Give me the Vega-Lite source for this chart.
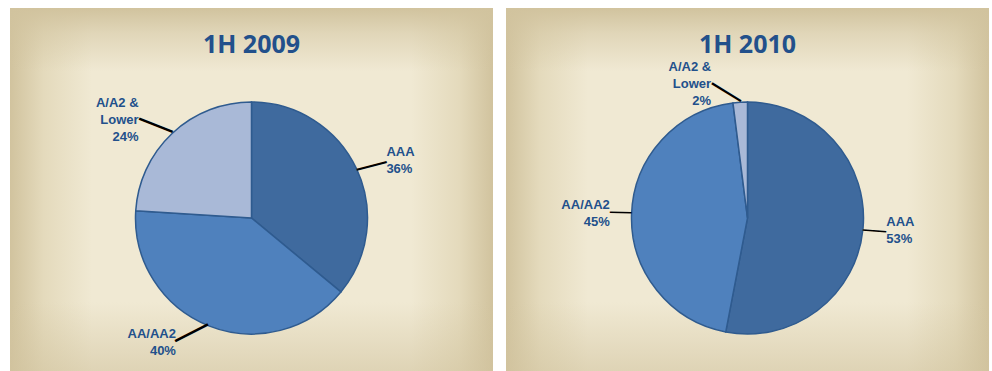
{
  "$schema": "https://vega.github.io/schema/vega-lite/v6.json",
  "padding": {"left": 10, "top": 8, "right": 3, "bottom": 0},
  "spacing": 13,
  "background": "white",
  "config": {"view": {"stroke": null}},
  "datasets": {
    "pie": [
      {"period": "1H 2009", "rating": "AAA", "share": 36, "label": "AAA\n36%"},
      {"period": "1H 2009", "rating": "AA/AA2", "share": 40, "label": "AA/AA2\n40%"},
      {"period": "1H 2009", "rating": "A/A2 & Lower", "share": 24, "label": "A/A2 &\nLower\n24%"},
      {"period": "1H 2010", "rating": "AAA", "share": 53, "label": "AAA\n53%"},
      {"period": "1H 2010", "rating": "AA/AA2", "share": 45, "label": "AA/AA2\n45%"},
      {"period": "1H 2010", "rating": "A/A2 & Lower", "share": 2, "label": "A/A2 &\nLower\n2%"}
    ],
    "bg": [{"panel": "background"}]
  },
  "hconcat": [
    {
      "width": 483,
      "height": 420,
      "title": {"text": "1H 2009", "offset": -50, "fontSize": 25, "font": "Open Sans", "fontWeight": "bold", "color": "#22508B", "anchor": "middle"},
      "layer": [
        {
          "data": {"name": "bg"},
          "mark": {"type": "rect", "color": {"gradient": "linear", "x1": 0, "y1": 0, "x2": 1, "y2": 0, "stops": [
            {"offset": 0, "color": "#D1C39E"}, {"offset": 0.07, "color": "#E4DABC"}, {"offset": 0.17, "color": "#F0E9D3"},
            {"offset": 0.83, "color": "#F0E9D3"}, {"offset": 0.93, "color": "#E4DABC"}, {"offset": 1, "color": "#D1C39E"}]}},
          "encoding": {}
        },
        {
          "data": {"name": "bg"},
          "mark": {"type": "rect", "color": {"gradient": "linear", "x1": 0, "y1": 0, "x2": 0, "y2": 1, "stops": [
            {"offset": 0, "color": "rgba(209,195,158,1)"}, {"offset": 0.06, "color": "rgba(209,195,158,0.5)"}, {"offset": 0.15, "color": "rgba(209,195,158,0)"},
            {"offset": 0.7, "color": "rgba(209,195,158,0)"}, {"offset": 0.86, "color": "rgba(209,195,158,0.55)"}, {"offset": 1, "color": "rgba(209,195,158,1)"}]}},
          "encoding": {}
        },
        {
          "data": {"name": "pie"},
          "transform": [{"filter": "datum.period == '1H 2009'"}],
          "layer": [
            {
              "mark": {"type": "arc", "outerRadius": 116, "stroke": "#2F5B8F", "strokeWidth": 1.5},
              "encoding": {
                "theta": {"field": "share", "type": "quantitative", "stack": true},
                "order": {"field": "rating", "sort": "descending"},
                "color": {"field": "rating", "type": "nominal", "legend": null,
                  "scale": {"domain": ["AAA", "AA/AA2", "A/A2 & Lower"], "range": ["#3F6A9E", "#4F81BD", "#A9B9D7"]}}
              }
            },
            {
              "mark": {"type": "text", "radius": 125, "font": "Liberation Sans", "color": "black", "align": "center", "baseline": "middle",
                "angle": {"expr": "atan2((-18*cos((datum.share_start+datum.share_end)*PI/100)), (18*sin((datum.share_start+datum.share_end)*PI/100)+((sin((datum.share_start+datum.share_end)*PI/100)>=0?1:-1)*(3+25*abs(cos((datum.share_start+datum.share_end)*PI/100))))))*180/PI"},
                "fontSize": {"expr": "sqrt(pow(18*sin((datum.share_start+datum.share_end)*PI/100)+((sin((datum.share_start+datum.share_end)*PI/100)>=0?1:-1)*(3+25*abs(cos((datum.share_start+datum.share_end)*PI/100)))),2)+pow(18*cos((datum.share_start+datum.share_end)*PI/100),2))"},
                "dx": {"expr": "(((sin((datum.share_start+datum.share_end)*PI/100)>=0?1:-1)*(3+25*abs(cos((datum.share_start+datum.share_end)*PI/100))))/2)*(18*sin((datum.share_start+datum.share_end)*PI/100)+((sin((datum.share_start+datum.share_end)*PI/100)>=0?1:-1)*(3+25*abs(cos((datum.share_start+datum.share_end)*PI/100)))))/sqrt(pow(18*sin((datum.share_start+datum.share_end)*PI/100)+((sin((datum.share_start+datum.share_end)*PI/100)>=0?1:-1)*(3+25*abs(cos((datum.share_start+datum.share_end)*PI/100)))),2)+pow(18*cos((datum.share_start+datum.share_end)*PI/100),2))"},
                "dy": {"expr": "(((sin((datum.share_start+datum.share_end)*PI/100)>=0?1:-1)*(3+25*abs(cos((datum.share_start+datum.share_end)*PI/100))))/2)*(18*cos((datum.share_start+datum.share_end)*PI/100))/sqrt(pow(18*sin((datum.share_start+datum.share_end)*PI/100)+((sin((datum.share_start+datum.share_end)*PI/100)>=0?1:-1)*(3+25*abs(cos((datum.share_start+datum.share_end)*PI/100)))),2)+pow(18*cos((datum.share_start+datum.share_end)*PI/100),2))"}},
              "encoding": {
                "theta": {"field": "share", "type": "quantitative", "stack": true},
                "order": {"field": "rating", "sort": "descending"},
                "text": {"value": "—"}
              }
            },
            {
              "mark": {"type": "text", "radius": 134, "font": "Liberation Sans", "fontWeight": "bold", "fontSize": 13, "color": "#22508B", "baseline": "middle", "lineBreak": "\n", "lineHeight": 17,
                "align": {"expr": "sin((datum.share_start+datum.share_end)*PI/100) >= 0 ? 'left' : 'right'"},
                "dx": {"expr": "((sin((datum.share_start+datum.share_end)*PI/100)>=0?1:-1)*(3+25*abs(cos((datum.share_start+datum.share_end)*PI/100))))"},
                "dy": {"expr": "-(length(split(datum.label, '\\n')) - 1) * 8.5"}},
              "encoding": {
                "theta": {"field": "share", "type": "quantitative", "stack": true},
                "order": {"field": "rating", "sort": "descending"},
                "text": {"field": "label", "type": "nominal"}
              }
            }
          ]
        }
      ]
    },
    {
      "width": 483,
      "height": 420,
      "title": {"text": "1H 2010", "offset": -50, "fontSize": 25, "font": "Open Sans", "fontWeight": "bold", "color": "#22508B", "anchor": "middle"},
      "layer": [
        {
          "data": {"name": "bg"},
          "mark": {"type": "rect", "color": {"gradient": "linear", "x1": 0, "y1": 0, "x2": 1, "y2": 0, "stops": [
            {"offset": 0, "color": "#D1C39E"}, {"offset": 0.07, "color": "#E4DABC"}, {"offset": 0.17, "color": "#F0E9D3"},
            {"offset": 0.83, "color": "#F0E9D3"}, {"offset": 0.93, "color": "#E4DABC"}, {"offset": 1, "color": "#D1C39E"}]}},
          "encoding": {}
        },
        {
          "data": {"name": "bg"},
          "mark": {"type": "rect", "color": {"gradient": "linear", "x1": 0, "y1": 0, "x2": 0, "y2": 1, "stops": [
            {"offset": 0, "color": "rgba(209,195,158,1)"}, {"offset": 0.06, "color": "rgba(209,195,158,0.5)"}, {"offset": 0.15, "color": "rgba(209,195,158,0)"},
            {"offset": 0.7, "color": "rgba(209,195,158,0)"}, {"offset": 0.86, "color": "rgba(209,195,158,0.55)"}, {"offset": 1, "color": "rgba(209,195,158,1)"}]}},
          "encoding": {}
        },
        {
          "data": {"name": "pie"},
          "transform": [{"filter": "datum.period == '1H 2010'"}],
          "layer": [
            {
              "mark": {"type": "arc", "outerRadius": 116, "stroke": "#2F5B8F", "strokeWidth": 1.5},
              "encoding": {
                "theta": {"field": "share", "type": "quantitative", "stack": true},
                "order": {"field": "rating", "sort": "descending"},
                "color": {"field": "rating", "type": "nominal", "legend": null,
                  "scale": {"domain": ["AAA", "AA/AA2", "A/A2 & Lower"], "range": ["#3F6A9E", "#4F81BD", "#A9B9D7"]}}
              }
            },
            {
              "mark": {"type": "text", "radius": 125, "font": "Liberation Sans", "color": "black", "align": "center", "baseline": "middle",
                "angle": {"expr": "atan2((-18*cos((datum.share_start+datum.share_end)*PI/100)), (18*sin((datum.share_start+datum.share_end)*PI/100)+((sin((datum.share_start+datum.share_end)*PI/100)>=0?1:-1)*(3+25*abs(cos((datum.share_start+datum.share_end)*PI/100))))))*180/PI"},
                "fontSize": {"expr": "sqrt(pow(18*sin((datum.share_start+datum.share_end)*PI/100)+((sin((datum.share_start+datum.share_end)*PI/100)>=0?1:-1)*(3+25*abs(cos((datum.share_start+datum.share_end)*PI/100)))),2)+pow(18*cos((datum.share_start+datum.share_end)*PI/100),2))"},
                "dx": {"expr": "(((sin((datum.share_start+datum.share_end)*PI/100)>=0?1:-1)*(3+25*abs(cos((datum.share_start+datum.share_end)*PI/100))))/2)*(18*sin((datum.share_start+datum.share_end)*PI/100)+((sin((datum.share_start+datum.share_end)*PI/100)>=0?1:-1)*(3+25*abs(cos((datum.share_start+datum.share_end)*PI/100)))))/sqrt(pow(18*sin((datum.share_start+datum.share_end)*PI/100)+((sin((datum.share_start+datum.share_end)*PI/100)>=0?1:-1)*(3+25*abs(cos((datum.share_start+datum.share_end)*PI/100)))),2)+pow(18*cos((datum.share_start+datum.share_end)*PI/100),2))"},
                "dy": {"expr": "(((sin((datum.share_start+datum.share_end)*PI/100)>=0?1:-1)*(3+25*abs(cos((datum.share_start+datum.share_end)*PI/100))))/2)*(18*cos((datum.share_start+datum.share_end)*PI/100))/sqrt(pow(18*sin((datum.share_start+datum.share_end)*PI/100)+((sin((datum.share_start+datum.share_end)*PI/100)>=0?1:-1)*(3+25*abs(cos((datum.share_start+datum.share_end)*PI/100)))),2)+pow(18*cos((datum.share_start+datum.share_end)*PI/100),2))"}},
              "encoding": {
                "theta": {"field": "share", "type": "quantitative", "stack": true},
                "order": {"field": "rating", "sort": "descending"},
                "text": {"value": "—"}
              }
            },
            {
              "mark": {"type": "text", "radius": 134, "font": "Liberation Sans", "fontWeight": "bold", "fontSize": 13, "color": "#22508B", "baseline": "middle", "lineBreak": "\n", "lineHeight": 17,
                "align": {"expr": "sin((datum.share_start+datum.share_end)*PI/100) >= 0 ? 'left' : 'right'"},
                "dx": {"expr": "((sin((datum.share_start+datum.share_end)*PI/100)>=0?1:-1)*(3+25*abs(cos((datum.share_start+datum.share_end)*PI/100))))"},
                "dy": {"expr": "-(length(split(datum.label, '\\n')) - 1) * 8.5"}},
              "encoding": {
                "theta": {"field": "share", "type": "quantitative", "stack": true},
                "order": {"field": "rating", "sort": "descending"},
                "text": {"field": "label", "type": "nominal"}
              }
            }
          ]
        }
      ]
    }
  ]
}
